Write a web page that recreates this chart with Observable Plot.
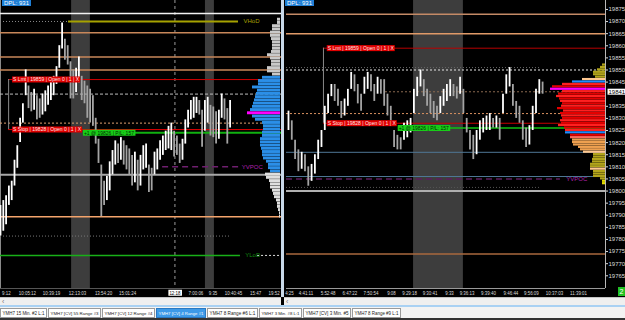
<!DOCTYPE html>
<html><head><meta charset="utf-8">
<script src="https://cdn.jsdelivr.net/npm/d3@7"></script>
<script src="https://cdn.jsdelivr.net/npm/@observablehq/plot@0.6"></script>
<style>
html,body{margin:0;padding:0;background:#000;}
#wrap{position:relative;width:625px;height:320px;overflow:hidden;background:#000;font-family:"Liberation Sans",Arial,sans-serif;}
#left{position:absolute;left:0;top:0;}
#right{position:absolute;left:285px;top:0;}
.sep{position:absolute;left:281px;top:0;width:3px;height:297px;background:#c9d9e9;}
.dpl{position:absolute;top:0;height:6px;background:#1f7fd6;color:#fff;font-size:6px;line-height:6px;padding:0 2px;white-space:nowrap;}
.scroll{position:absolute;top:297px;height:8px;background:#efefef;border-top:1px solid #c4c4c4;font-size:7px;line-height:7px;color:#777;}
.blue{position:absolute;top:305px;left:0;width:625px;height:2px;background:#a9d1f3;}
.bot{position:absolute;top:318px;left:0;width:625px;height:2px;background:#333;}
.conn{position:absolute;left:618px;top:287px;width:7px;height:9px;background:#22c022;color:#fff;font-size:7px;line-height:9px;text-align:center;}
</style></head>
<body><div id="wrap"></div>
<script>
// ================= DATA =================
// Left chart (YMH7 [CV] 4 Range): bar highs / lows
const leftHi = [19781,19784,19787,19793,19796,19809,19818,19835,19844,19865,
  19855,19851,19853,19849,19847,19850,19852,19855,19860,19861,
  19867,19880,19894,19884,19880,19870,19865,19866,19873,19861,
  19858,19855,19853,19849,19835,19822,19806,19796,19799,19808,
  19815,19821,19819,19823,19821,19818,19816,19812,19814,19809,
  19812,19818,19819,19806,19804,19814,19816,19821,19824,19827,
  19830,19832,19827,19824,19819,19822,19834,19840,19846,19848,
  19848,19846,19840,19846,19848,19843,19842,19839,19840,19850,
  19847,19841,19846];
const leftLo = [19762,19765,19769,19781,19784,19793,19804,19820,19832,19849,
  19841,19839,19840,19834,19835,19837,19839,19843,19846,19849,
  19856,19866,19878,19871,19868,19847,19847,19851,19857,19846,
  19844,19835,19832,19830,19819,19807,19774,19781,19784,19790,
  19800,19806,19807,19809,19806,19803,19800,19793,19795,19790,
  19793,19803,19804,19789,19790,19800,19803,19809,19812,19815,
  19816,19815,19811,19812,19807,19809,19819,19829,19834,19835,
  19838,19837,19817,19827,19832,19824,19823,19819,19822,19835,
  19834,19819,19829];

// Right chart: bar highs / lows
const rightHi = [19833,19829,19821,19817,19816,19815,19810,19811,19815,19821,
  19825,19835,19840,19844,19844,19842,19837,19838,19842,19849,
  19848,19844,19840,19847,19849,19848,19844,19847,19846,19846,
  19840,19835,19825,19823,19822,19828,19829,19830,19842,19847,
  19850,19846,19842,19840,19837,19835,19839,19842,19844,19846,
  19844,19843,19847,19842,19830,19825,19823,19825,19829,19830,
  19831,19832,19830,19831,19830,19840,19848,19851,19844,19837,
  19835,19829,19826,19827,19835,19842,19846,19845];
const rightLo = [19825,19821,19813,19808,19809,19808,19802,19804,19807,19813,
  19818,19825,19832,19839,19837,19835,19830,19831,19835,19842,
  19841,19836,19833,19840,19842,19841,19837,19840,19840,19835,
  19831,19828,19818,19817,19817,19821,19822,19824,19832,19839,
  19843,19839,19835,19832,19830,19829,19832,19835,19837,19839,
  19839,19838,19840,19832,19824,19817,19813,19815,19821,19824,
  19825,19825,19826,19826,19821,19832,19840,19843,19835,19830,
  19828,19821,19818,19819,19825,19832,19840,19840];

// Time axis (bar index -> label)
const leftTickPos = [2.1, 9.6, 18.2, 27.5, 36.8, 45.4, 62.3, 69.8, 75.9, 83.2, 91.1, 97.7];
const leftTickLabels = ["9:12","10:05:12","10:39:19","12:13:03","13:54:20","15:01:24","12:18","7:00:06","9:35","10:40:45","15:47","19:52"];
const rightTickPos = [0.3, 5.3, 12.0, 18.6, 25.0, 31.2, 36.7, 42.9, 48.8, 54.1, 60.6, 67.4, 73.6, 80.6, 87.9];
const rightTickLabels = ["4:25","4:41:11","5:52:48","6:47:22","7:50:54","9:08","9:29:18","9:30:41","9:33","9:36:13","9:39:40","9:46:44","9:56:09","10:37:03","11:39:01"];
const priceTicks = [19765,19770,19775,19780,19785,19790,19795,19800,19805,19810,19815,19820,19825,19830,19835,19845,19850,19855,19860,19865,19870,19875];

// Sessions (bar-index ranges) and crosshair
const leftSessionStart = [25.4, 73.2], leftSessionEnd = [32.1, 76.4];
const rightSessionStart = [37.9], rightSessionEnd = [53.0];
const cursorIndex = 62.3, cursorLabel = "12:18";

// Key price levels
const prevHigh = 19900, vhod = 19895, res1 = 19888, res2 = 19873, res3 = 19865;
const limitPrice = 19859, lvl851 = 19851, lvl850 = 19850, lastPrice = 19841, lvl832 = 19832;
const stopPrice = 19828, fillPrice = 19826, band1 = 19816, band2 = 19806, yvpoc = 19805;
const lvl8015 = 19801.5, round800 = 19800, sup774 = 19774, lvl762 = 19762, ylod = 19750;
const position = 1, pnl = 157, dpl = 931;

// Left volume profile (2-pt bins)
const leftProfPrices = [19896,19894,19892,19890,19888,19886,19884,19882,19880,19878,19876,19874,19872,19870,19868,19866,19864,19862,
  19860,19858,19856,19854,19852,19850,19848,19846,19844,19842,19840,19838,19836,19834,19832,19830,19828,19826,19824,19822,19820,19818,19816,19814,19812,19810,19808,19806,19804,19802,
  19800,19798,19796,19794,19792,19790,19788,19786,19784,19782,19780,19778,19776,19774];
const leftProfVol = [3,3,8,8,10,10,9,8,8,8,9,13,10,9,9,13,13,8,
  18,22,22,28,23,24,25,26,27,28,30,33,28,25,18,17,17,18,18,20,20,20,19,18,18,17,14,12,12,10,
  15,14,11,10,10,8,7,6,4,3,3,2,1,1];
const leftVAH = 19861, leftVAL = 19801, leftPOC = 19838;

// Right volume profile (1-pt bins) with delta category
const rightProfPrices = [19852,19851,19850,19849,19848,19847,19846,19845,19844,19843,19842,19841,19840,19839,19838,19837,19836,19835,19834,19833,19832,19831,19830,19829,19828,19827,19826,19825,19824,19823,19822,19821,19820,19819,19818,19817,19816,19815,19814,19813,19812,19811,19810,19809,19808,19807,19806,19805,19804,19803];
const rightProfVol = [3,5,8,12,12,10,23,33,43,53,55,43,47,49,46,45,43,44,48,42,45,44,43,45,44,47,41,40,40,35,35,33,33,32,27,25,22,12,12,13,13,15,15,15,12,12,12,5,3,3];
const rightProfCat = ["O","O","O","O","O","O","P","B","R","r","M","R","r","R","r","R","r","R","r","R","r","R","r","R","r","R","r","R","B","r","S","T","T","T","T","T","P","O","O","O","O","O","O","P","O","O","O","O","Y","Y"];

// Bottom tabs
const tabNames = ["YMH7 15 Min. #2 L:1","YMH7 [CV] 55 Range #3","YMH7 [CV] 12 Range #4","YMH7 [CV] 4 Range #1","YMH7 8 Range #6 L:1","YMH7 3 Min. #8 L:1","YMH7 [CV] 3 Min. #5","YMH7 8 Range #9 L:1"];
const selectedTab = 3;

// ================= RENDER =================
const FONT = "'Liberation Sans', Arial, sans-serif";
const catColor = {O:"#b3a51c", Y:"#e6df00", P:"#ffc890", B:"#1e8cff", M:"#ff00ff", R:"#ff2020", r:"#e40000", S:"#ff6a5a", T:"#eea050"};
const upC = "#ffffff", dnC = "#a4a4a4";

function bars(hi, lo) {
  return hi.map((h, i) => ({i, hi: h, lo: lo[i], up: i === 0 || (h + lo[i]) >= (hi[i-1] + lo[i-1])}));
}
const leftBars = bars(leftHi, leftLo), rightBars = bars(rightHi, rightLo);
const leftSessions = leftSessionStart.map((s, k) => ({s, e: leftSessionEnd[k]}));
const rightSessions = rightSessionStart.map((s, k) => ({s, e: rightSessionEnd[k]}));

const LX = [0, 100.36], LY = [19729.5, 19908], Lend = 100, Lpx = 2.8;
const RX = [-0.6, 96.06], RY = [19759.75, 19878.7], Rend = 96.06, Rpx = 3.3;

const limitText = `S Lmt | ${limitPrice} | Open 0 | ${position} | X`;
const stopText = `S Stop | ${stopPrice} | Open 0 | ${position} | X`;
const fillText = `+${position} @ ${fillPrice} | P/L: ${pnl}`;

const leftProfile = leftProfPrices.map((p, k) => ({p, v: leftProfVol[k],
  c: p === leftPOC ? "#ff00ff" : (p >= leftVAL && p <= leftVAH) ? "#2b8fe8" : p > leftVAH ? "#c9c9c9" : "#dedede"}));
const rightProfile = rightProfPrices.map((p, k) => ({p, v: rightProfVol[k], c: catColor[rightProfCat[k]]}));

const lMap = new Map(leftTickPos.map((p, k) => [p, leftTickLabels[k]]));
const rMap = new Map(rightTickPos.map((p, k) => [p, rightTickLabels[k]]));

const left = Plot.plot({
  width: 281, height: 297, marginTop: 0, marginBottom: 9, marginLeft: 0, marginRight: 0,
  style: {background: "#000", color: "#dcdcdc", fontFamily: FONT, fontSize: "6px", overflow: "visible"},
  x: {domain: LX}, y: {domain: LY, axis: null}, color: {type: "identity"},
  marks: [
    Plot.rect(leftSessions, {x1: "s", x2: "e", y1: LY[0], y2: LY[1], fill: "#3d3d3d"}),
    Plot.ruleX([cursorIndex], {stroke: "#9a9a9a", strokeDasharray: "3,3"}),
    Plot.ruleX([0], {stroke: "#8a8a8a"}),
    Plot.ruleY([prevHigh], {stroke: "#f2f2f2", strokeWidth: 1.5}),
    Plot.ruleY([vhod], {x1: 0, x2: 24.3, stroke: "#8a8a8a", strokeDasharray: "1,2"}),
    Plot.ruleY([vhod], {x1: 24.3, x2: 85, stroke: "#a6a200", strokeWidth: 2}),
    Plot.ruleY([res1, res2, res3], {stroke: "#c8875a", strokeWidth: 1.5}),
    Plot.ruleY([limitPrice], {x1: 2.9, x2: LX[1], stroke: "#d00000"}),
    Plot.ruleY([lvl850], {stroke: "#bdbdbd", strokeDasharray: "3,2"}),
    Plot.ruleY([lvl832], {x1: 0, x2: 94.6, stroke: "#e0a070", strokeDasharray: "2,2"}),
    Plot.ruleY([stopPrice], {x1: 2.9, x2: LX[1], stroke: "#e00000"}),
    Plot.ruleY([fillPrice], {x1: 29.6, x2: LX[1], stroke: "#10b010", strokeWidth: 2}),
    Plot.ruleX([2.9], {y1: stopPrice, y2: limitPrice, stroke: "#888"}),
    Plot.ruleY([yvpoc], {x1: 57.9, x2: 85.7, stroke: "#6f1f6f", strokeWidth: 1.5, strokeDasharray: "6,4"}),
    Plot.ruleY([round800], {stroke: "#a8a8a8", strokeWidth: 2}),
    Plot.ruleY([sup774], {stroke: "#f4a46c", strokeWidth: 1.5}),
    Plot.ruleY([lvl762], {x1: 0, x2: 82, stroke: "#777", strokeDasharray: "1,2"}),
    Plot.ruleY([ylod], {x1: 0, x2: 85.7, stroke: "#18b018", strokeWidth: 1.5}),
    Plot.ruleY([ylod], {x1: 91.8, x2: Lend, stroke: "#dddddd", strokeDasharray: "2,2"}),
    Plot.rect(leftProfile, {x1: d => Lend - d.v / Lpx, x2: Lend, y1: d => d.p - 1, y2: d => d.p + 1, fill: "c", insetBottom: 0.3}),
    Plot.ruleX(leftBars, {x: "i", y1: "lo", y2: "hi", stroke: d => d.up ? upC : dnC, strokeWidth: 1.8}),
    Plot.text([vhod], {x: 86.8, y: d => d, text: () => "VHoD", textAnchor: "start", fill: "#a6a200", fontSize: 6}),
    Plot.text([yvpoc], {x: 86.2, y: d => d, text: () => "YVPOC", textAnchor: "start", fill: "#b020b0", fontSize: 6}),
    Plot.text([ylod], {x: 87.4, y: d => d, text: () => "YLoD", textAnchor: "start", fill: "#109010", fontSize: 6}),
    Plot.text([limitPrice], {x: 4.5, y: d => d, text: () => limitText, textAnchor: "start", fontSize: 6}),
    Plot.text([stopPrice], {x: 4.5, y: d => d, text: () => stopText, textAnchor: "start", fontSize: 6}),
    Plot.text([fillPrice], {x: 29.8, y: d => d, text: () => fillText, textAnchor: "start", fontSize: 6}),
    Plot.ruleY([LY[0]], {stroke: "#555"}),
    Plot.axisX({ticks: leftTickPos, tickFormat: d => lMap.get(d), tickSize: 0, tickPadding: 2, fontSize: 6, label: null})
  ]
});

const right = Plot.plot({
  width: 340, height: 297, marginTop: 0, marginBottom: 9, marginLeft: 1, marginRight: 20,
  style: {background: "#000", color: "#dcdcdc", fontFamily: FONT, fontSize: "6px", overflow: "visible"},
  x: {domain: RX}, y: {domain: RY}, color: {type: "identity"},
  marks: [
    Plot.rect(rightSessions, {x1: "s", x2: "e", y1: RY[0], y2: RY[1], fill: "#3d3d3d"}),
    Plot.ruleY([res2], {stroke: "#c48a66", strokeWidth: 1.5}),
    Plot.ruleY([res3], {stroke: "#e09a68", strokeWidth: 1.5}),
    Plot.ruleY([limitPrice], {x1: 10.6, x2: Rend, stroke: "#b80000"}),
    Plot.ruleY([lvl851], {x1: RX[0], x2: 76.4, stroke: "#666", strokeDasharray: "1,2"}),
    Plot.ruleY([lvl850], {stroke: "#e8e8e8", strokeDasharray: "2,2"}),
    Plot.ruleY([lastPrice], {x1: 29.4, x2: Rend, stroke: "#8a6a50", strokeDasharray: "2,2"}),
    Plot.ruleY([lvl832], {stroke: "#d89060", strokeDasharray: "2,2"}),
    Plot.ruleY([stopPrice], {x1: 10.6, x2: Rend, stroke: "#c80000"}),
    Plot.ruleY([fillPrice], {x1: 33.3, x2: Rend, stroke: "#10c010", strokeWidth: 1.5}),
    Plot.ruleX([10.6], {y1: stopPrice, y2: limitPrice, stroke: "#888"}),
    Plot.ruleY([band1, band2], {stroke: "#4f7796"}),
    Plot.ruleY([yvpoc], {x1: RX[0], x2: 82.4, stroke: "#5e1c5e", strokeWidth: 1.5, strokeDasharray: "6,4"}),
    Plot.ruleY([lvl8015], {x1: RX[0], x2: 76.4, stroke: "#555", strokeDasharray: "1,2"}),
    Plot.ruleY([round800], {stroke: "#b0b0b0", strokeWidth: 2}),
    Plot.ruleY([sup774], {stroke: "#a8683e", strokeWidth: 1.5}),
    Plot.rect(rightProfile, {x1: d => Rend - d.v / Rpx, x2: Rend, y1: d => d.p - 0.5, y2: d => d.p + 0.5, fill: "c", insetBottom: 0.2}),
    Plot.ruleX(rightBars, {x: "i", y1: "lo", y2: "hi", stroke: d => d.up ? upC : dnC, strokeWidth: 1.8}),
    Plot.text([yvpoc], {x: 84.2, y: d => d, text: () => "YVPOC", textAnchor: "start", fill: "#b020b0", fontSize: 6}),
    Plot.text([limitPrice], {x: 11.9, y: d => d, text: () => limitText, textAnchor: "start", fontSize: 6}),
    Plot.text([stopPrice], {x: 11.9, y: d => d, text: () => stopText, textAnchor: "start", fontSize: 6}),
    Plot.text([fillPrice], {x: 33.4, y: d => d, text: () => fillText, textAnchor: "start", fontSize: 6}),
    Plot.ruleX([Rend], {stroke: "#b8b8b8"}),
    Plot.ruleY([RY[0]], {stroke: "#999"}),
    Plot.axisY({ticks: priceTicks, anchor: "right", tickSize: 2, tickPadding: 1, tickFormat: d => String(d), fontSize: 6, label: null}),
    Plot.text([lastPrice], {y: d => d, frameAnchor: "right", dx: 3, textAnchor: "start", text: d => String(d), fontSize: 6}),
    Plot.axisX({ticks: rightTickPos, tickFormat: d => rMap.get(d), tickSize: 0, tickPadding: 2, fontSize: 6, label: null})
  ]
});

const wrap = document.getElementById("wrap");
const ld = document.createElement("div"); ld.id = "left"; ld.appendChild(left); wrap.appendChild(ld);
const sep = document.createElement("div"); sep.className = "sep"; wrap.appendChild(sep);
const rd = document.createElement("div"); rd.id = "right"; rd.appendChild(right); wrap.appendChild(rd);

const ns = "http://www.w3.org/2000/svg";
// condense the time-axis labels like the platform's narrow font
function condense(svg, labels, k) {
  const set = new Set(labels);
  for (const t of svg.querySelectorAll("text")) {
    if (!set.has(t.textContent)) continue;
    const w = t.getComputedTextLength();
    t.setAttribute("textLength", (w * k).toFixed(1));
    t.setAttribute("lengthAdjust", "spacingAndGlyphs");
  }
}
condense(left, leftTickLabels, 0.74);
condense(right, rightTickLabels, 0.74);

function boxify(svg, match, o) {
  for (const t of svg.querySelectorAll("text")) {
    if (t.textContent !== match) continue;
    if (o.width) { t.setAttribute("textLength", o.width); t.setAttribute("lengthAdjust", "spacingAndGlyphs"); }
    t.setAttribute("fill", o.color); t.style.fill = o.color;
    const b = t.getBBox();
    const r = document.createElementNS(ns, "rect");
    r.setAttribute("x", b.x - o.px); r.setAttribute("y", b.y - o.py);
    r.setAttribute("width", b.width + 2 * o.px); r.setAttribute("height", b.height + 2 * o.py);
    r.setAttribute("fill", o.bg);
    const tr = t.getAttribute("transform"); if (tr) r.setAttribute("transform", tr);
    t.parentNode.insertBefore(r, t);
  }
}
for (const svg of [left, right]) {
  boxify(svg, limitText, {width: 66, color: "#ffe6e6", bg: "#e00000", px: 1, py: 0});
  boxify(svg, stopText, {width: 68, color: "#ffe6e6", bg: "#e00000", px: 1, py: 0});
  boxify(svg, fillText, {width: 50, color: "#002a00", bg: "#18cc18", px: 1, py: 0});
}
boxify(left, cursorLabel, {color: "#000", bg: "#ffffff", px: 1, py: 0});
boxify(right, String(lastPrice), {color: "#000", bg: "#ffffff", px: 1, py: 0});

// overlays (labels / chrome)
function div(cls, css, html) { const d = document.createElement("div"); d.className = cls; d.style.cssText = css; if (html != null) d.innerHTML = html; wrap.appendChild(d); return d; }
div("dpl", "left:2px;", "DPL: " + dpl);
div("dpl", "left:285px;", "DPL: " + dpl);
div("scroll", "left:0;width:281px;", "&nbsp;&lsaquo;");
div("scroll", "left:284px;width:341px;", "&nbsp;&lsaquo;");
div("blue", "");

// tab strip (SVG; font shrunk so each label truly fits its tab)
const tabX = [0, 48, 102, 156, 207, 259, 303, 352], tabW = [46, 52, 52, 49, 50, 42, 47, 48];
const ts = document.createElementNS(ns, "svg");
ts.setAttribute("width", 625); ts.setAttribute("height", 11);
ts.style.position = "absolute"; ts.style.left = "0px"; ts.style.top = "307px";
const bg = document.createElementNS(ns, "rect");
bg.setAttribute("width", 625); bg.setAttribute("height", 11); bg.setAttribute("fill", "#f3f3f3"); ts.appendChild(bg);
wrap.appendChild(ts);
tabNames.forEach((n, k) => {
  const sel = k === selectedTab;
  const r = document.createElementNS(ns, "rect");
  r.setAttribute("x", tabX[k] + 0.5); r.setAttribute("y", 1.5); r.setAttribute("width", tabW[k]); r.setAttribute("height", 9);
  r.setAttribute("fill", sel ? "#3d9ae8" : "#ffffff"); r.setAttribute("stroke", sel ? "#2a78c0" : "#9a9a9a");
  ts.appendChild(r);
  const t = document.createElementNS(ns, "text");
  t.setAttribute("x", tabX[k] + 0.5 + tabW[k] / 2); t.setAttribute("y", 8);
  t.setAttribute("text-anchor", "middle");
  t.setAttribute("font-family", "Liberation Sans, Arial, sans-serif");
  t.setAttribute("fill", sel ? "#ffffff" : "#222222");
  t.setAttribute("font-size", 6);
  t.textContent = n; ts.appendChild(t);
  const w = t.getComputedTextLength(), avail = tabW[k] - 4;
  if (w > avail) t.setAttribute("font-size", (6 * avail / w).toFixed(2));
});
div("bot", "");
div("conn", "", "2");
</script>
</body></html>
